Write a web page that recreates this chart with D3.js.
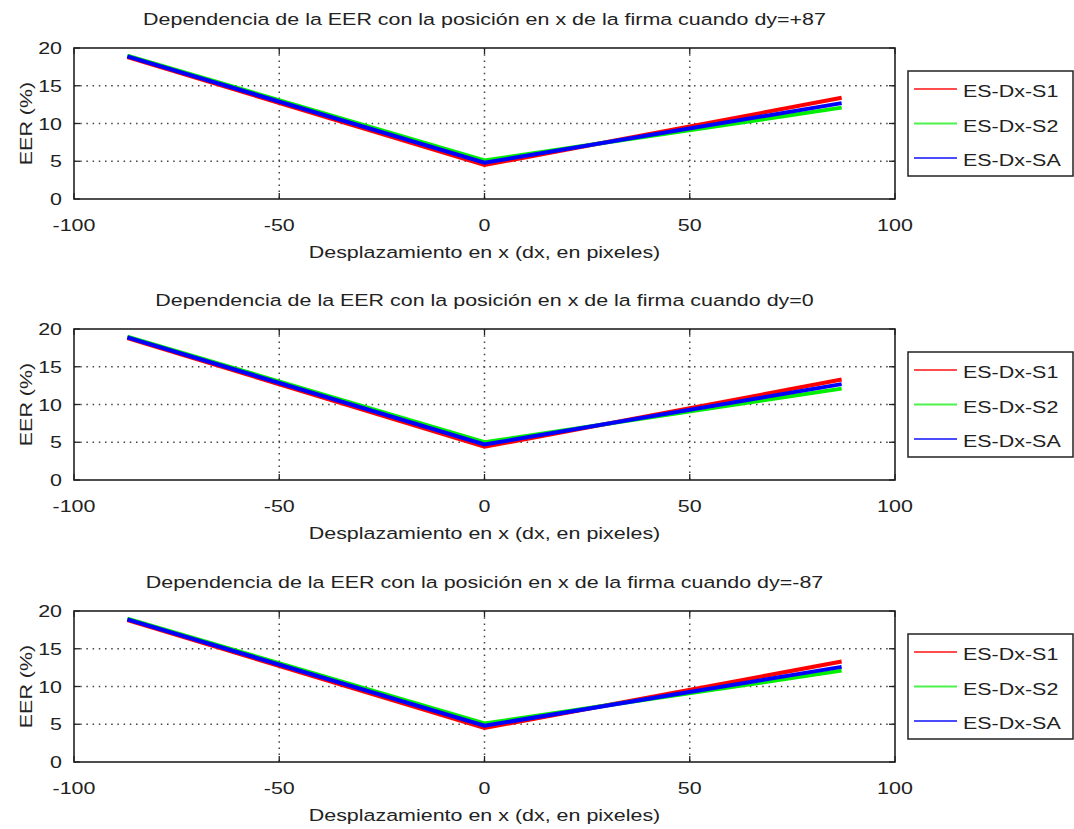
<!DOCTYPE html>
<html>
<head>
<meta charset="utf-8">
<script src="https://cdn.jsdelivr.net/npm/d3@7"></script>
<style>
  html, body { margin: 0; padding: 0; background: #fff; }
  svg { display: block; }
</style>
</head>
<body>
<script>
// Horizontal displacement (dx, pixels) where EER was measured
const dxValues = [-87, 0, 87];

// Vertical displacement of each subplot
const dyLabels = ["+87", "0", "-87"];

// Series names and colours
const seriesNames = ["ES-Dx-S1", "ES-Dx-S2", "ES-Dx-SA"];
const seriesColors = ["#ff0000", "#00ee00", "#0000ff"];

// EER (%) per series, one array per subplot (dy = +87, 0, -87)
const eerDyPos = {
  "ES-Dx-S1": [18.8, 4.5, 13.4],
  "ES-Dx-S2": [19.0, 5.1, 12.1],
  "ES-Dx-SA": [18.9, 4.8, 12.7]
};
const eerDyZero = {
  "ES-Dx-S1": [18.8, 4.4, 13.3],
  "ES-Dx-S2": [19.0, 5.0, 12.1],
  "ES-Dx-SA": [18.9, 4.7, 12.7]
};
const eerDyNeg = {
  "ES-Dx-S1": [18.8, 4.5, 13.3],
  "ES-Dx-S2": [19.0, 5.1, 12.1],
  "ES-Dx-SA": [18.9, 4.8, 12.6]
};
const panelData = [eerDyPos, eerDyZero, eerDyNeg];

// Axis ticks
const xTicks = [-100, -50, 0, 50, 100];
const yTicks = [0, 5, 10, 15, 20];

const W = 1074, H = 829;
const plotLeft = 74, plotRight = 895;
const panelTops = [48, 329, 611];
const plotH = 151;
const stretch = 1.3;
const fontSize = 16.5;
const textColor = "#222";

const svg = d3.select("body").append("svg")
  .attr("width", W).attr("height", H)
  .style("font-family", "'Liberation Sans', Arial, Helvetica, sans-serif");

// Text with the wide glyph look of the figure
function label(g, x, y, str, anchor, rot) {
  return g.append("text")
    .attr("transform", `translate(${x},${y}) rotate(${rot || 0}) scale(${stretch},1)`)
    .attr("text-anchor", anchor || "middle")
    .attr("font-size", fontSize)
    .attr("fill", textColor)
    .text(str);
}

const x = d3.scaleLinear().domain([-100, 100]).range([plotLeft, plotRight]);

panelData.forEach((data, i) => {
  const top = panelTops[i];
  const bottom = top + plotH;
  const y = d3.scaleLinear().domain([0, 20]).range([bottom, top]);
  const g = svg.append("g");

  // dotted grid
  g.selectAll(".gx").data(xTicks.slice(1, -1)).enter().append("line")
    .attr("x1", d => x(d)).attr("x2", d => x(d))
    .attr("y1", top).attr("y2", bottom)
    .attr("stroke", "#444").attr("stroke-width", 1.5)
    .attr("stroke-dasharray", "1.5,4.7");
  g.selectAll(".gy").data(yTicks.slice(1, -1)).enter().append("line")
    .attr("x1", plotLeft).attr("x2", plotRight)
    .attr("y1", d => y(d)).attr("y2", d => y(d))
    .attr("stroke", "#444").attr("stroke-width", 1.5)
    .attr("stroke-dasharray", "1.5,4.7");

  // inward tick marks on all four sides
  const tl = 6;
  xTicks.forEach(t => {
    g.append("line").attr("x1", x(t)).attr("x2", x(t)).attr("y1", bottom).attr("y2", bottom - tl)
      .attr("stroke", "#222").attr("stroke-width", 1.3);
    g.append("line").attr("x1", x(t)).attr("x2", x(t)).attr("y1", top).attr("y2", top + tl)
      .attr("stroke", "#222").attr("stroke-width", 1.3);
  });
  yTicks.forEach(t => {
    g.append("line").attr("x1", plotLeft).attr("x2", plotLeft + tl).attr("y1", y(t)).attr("y2", y(t))
      .attr("stroke", "#222").attr("stroke-width", 1.3);
    g.append("line").attr("x1", plotRight).attr("x2", plotRight - tl).attr("y1", y(t)).attr("y2", y(t))
      .attr("stroke", "#222").attr("stroke-width", 1.3);
  });

  // series lines
  const line = d3.line().x((d, k) => x(dxValues[k])).y(d => y(d));
  seriesNames.forEach((name, k) => {
    g.append("path")
      .datum(data[name])
      .attr("d", line)
      .attr("fill", "none")
      .attr("stroke", seriesColors[k])
      .attr("stroke-width", 4)
      .attr("stroke-linejoin", "miter");
  });

  // axes box
  g.append("rect")
    .attr("x", plotLeft).attr("y", top)
    .attr("width", plotRight - plotLeft).attr("height", plotH)
    .attr("fill", "none").attr("stroke", "#222").attr("stroke-width", 1.6);

  // tick labels
  xTicks.forEach(t => label(g, x(t), bottom + 32, String(t), "middle"));
  yTicks.forEach(t => label(g, 62, y(t) + 6, String(t), "end"));

  // titles
  label(g, (plotLeft + plotRight) / 2, top - 23,
    `Dependencia de la EER con la posición en x de la firma cuando dy=${dyLabels[i]}`,
    "middle");
  label(g, (plotLeft + plotRight) / 2, bottom + 59, "Desplazamiento en x (dx, en pixeles)", "middle");
  label(g, 32, (top + bottom) / 2, "EER (%)", "middle", -90);

  // legend
  const lx = 908, ly = top + 23;
  g.append("rect")
    .attr("x", lx).attr("y", ly).attr("width", 165).attr("height", 105)
    .attr("fill", "#fff").attr("stroke", "#222").attr("stroke-width", 1.5);
  seriesNames.forEach((name, k) => {
    const ry = top + 41 + k * 34.5;
    g.append("line")
      .attr("x1", 914).attr("x2", 957).attr("y1", ry).attr("y2", ry)
      .attr("stroke", seriesColors[k]).attr("stroke-width", 1.8).attr("stroke-opacity", 0.7);
    label(g, 963, ry + 8, name, "start");
  });
});
</script>
</body>
</html>
